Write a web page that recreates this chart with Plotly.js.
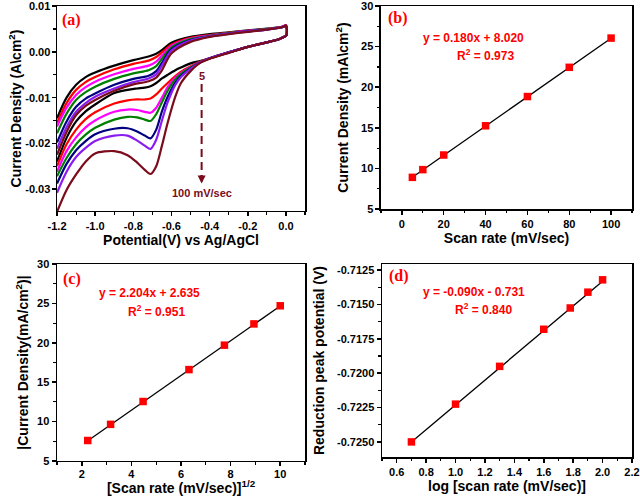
<!DOCTYPE html>
<html>
<head>
<meta charset="utf-8">
<script src="https://cdn.plot.ly/plotly-3.0.1.min.js"></script>
<style>html,body{margin:0;padding:0;background:#fff}#chart{width:640px;height:496px}</style>
</head>
<body>
<div id="chart"></div>
<script>
// ---------- Panel (a): cyclic voltammograms ----------
const scanLabels = ['5', '10', '20', '40', '60', '80', '100'];
const cvColors = ['#000000', '#ff0000', '#ff00ff', '#008000', '#000080', '#8a1cf0', '#7a0c1c'];

// anodic (upper) branch potentials
const upperX = [-1.2, -1.15, -1.1, -1.05, -1.0, -0.9, -0.8, -0.72, -0.68, -0.65, -0.6, -0.5, -0.4, -0.3, -0.2, -0.1, -0.02, 0.0];
// turnaround near 0 V
const turnX = [0.004, 0.005, 0.002];
const turnY = [0.0053, 0.0044, 0.0036];
// cathodic (lower) branch potentials
const lowerX = [-0.03, -0.1, -0.2, -0.3, -0.4, -0.45, -0.5, -0.55, -0.58, -0.62, -0.65, -0.68, -0.71, -0.74, -0.78, -0.83, -0.9, -1.0, -1.05, -1.1, -1.15, -1.2];

const upper5   = [-0.0145, -0.0100, -0.0072, -0.0055, -0.0045, -0.0030, -0.0018, -0.0010, -0.0004, 0.0004, 0.0020, 0.0033, 0.0039, 0.0043, 0.0047, 0.0051, 0.0055, 0.0058];
const upper10  = [-0.0155, -0.0112, -0.0083, -0.0066, -0.0055, -0.0038, -0.0026, -0.0019, -0.0011, -0.0001, 0.0016, 0.0031, 0.0037, 0.0042, 0.0046, 0.0050, 0.0055, 0.0058];
const upper20  = [-0.0163, -0.0122, -0.0094, -0.0077, -0.0065, -0.0049, -0.0037, -0.0030, -0.0021, -0.0008, 0.0013, 0.0029, 0.0036, 0.0041, 0.0046, 0.0050, 0.0055, 0.0058];
const upper40  = [-0.0178, -0.0135, -0.0105, -0.0088, -0.0076, -0.0059, -0.0047, -0.0040, -0.0031, -0.0015, 0.0010, 0.0028, 0.0035, 0.0041, 0.0045, 0.0050, 0.0054, 0.0057];
const upper60  = [-0.0198, -0.0152, -0.0120, -0.0102, -0.0091, -0.0072, -0.0059, -0.0052, -0.0042, -0.0024, 0.0006, 0.0026, 0.0034, 0.0040, 0.0045, 0.0049, 0.0054, 0.0057];
const upper80  = [-0.0212, -0.0165, -0.0131, -0.0112, -0.0098, -0.0080, -0.0066, -0.0058, -0.0049, -0.0030, 0.0003, 0.0025, 0.0034, 0.0040, 0.0045, 0.0049, 0.0054, 0.0057];
const upper100 = [-0.0225, -0.0175, -0.0138, -0.0118, -0.0105, -0.0085, -0.0071, -0.0064, -0.0056, -0.0040, -0.0003, 0.0022, 0.0033, 0.0039, 0.0044, 0.0049, 0.0054, 0.0058];

const lower5   = [0.0029, 0.0021, 0.0011, -0.0001, -0.0014, -0.0020, -0.0025, -0.0034, -0.0040, -0.0050, -0.0058, -0.0068, -0.0075, -0.0078, -0.0080, -0.0083, -0.0090, -0.0115, -0.0130, -0.0152, -0.0188, -0.0240];
const lower10  = [0.0029, 0.0021, 0.0011, -0.0001, -0.0014, -0.0021, -0.0031, -0.0043, -0.0053, -0.0068, -0.0080, -0.0093, -0.0102, -0.0104, -0.0104, -0.0106, -0.0113, -0.0132, -0.0147, -0.0170, -0.0202, -0.0250];
const lower20  = [0.0029, 0.0021, 0.0011, -0.0001, -0.0014, -0.0022, -0.0033, -0.0046, -0.0056, -0.0077, -0.0100, -0.0122, -0.0133, -0.0131, -0.0127, -0.0126, -0.0131, -0.0150, -0.0165, -0.0187, -0.0217, -0.0262];
const lower40  = [0.0029, 0.0021, 0.0011, -0.0001, -0.0014, -0.0022, -0.0034, -0.0048, -0.0060, -0.0085, -0.0110, -0.0136, -0.0151, -0.0148, -0.0143, -0.0142, -0.0148, -0.0166, -0.0181, -0.0202, -0.0232, -0.0272];
const lower60  = [0.0029, 0.0021, 0.0011, -0.0001, -0.0014, -0.0023, -0.0036, -0.0052, -0.0067, -0.0098, -0.0130, -0.0170, -0.0189, -0.0183, -0.0174, -0.0167, -0.0168, -0.0180, -0.0195, -0.0215, -0.0245, -0.0288];
const lower80  = [0.0029, 0.0021, 0.0011, -0.0001, -0.0014, -0.0023, -0.0037, -0.0055, -0.0072, -0.0110, -0.0150, -0.0192, -0.0212, -0.0205, -0.0194, -0.0183, -0.0183, -0.0195, -0.0210, -0.0230, -0.0262, -0.0308];
const lower100 = [0.0029, 0.0021, 0.0011, -0.0002, -0.0015, -0.0024, -0.0042, -0.0068, -0.0098, -0.0155, -0.0205, -0.0250, -0.0267, -0.0258, -0.0242, -0.0226, -0.0217, -0.0222, -0.0240, -0.0268, -0.0302, -0.0350];

const upperSets = [upper5, upper10, upper20, upper40, upper60, upper80, upper100];
const lowerSets = [lower5, lower10, lower20, lower40, lower60, lower80, lower100];

// tick labels (hyphen-minus as in the original figure)
const aXTickVals = [-1.2, -1.0, -0.8, -0.6, -0.4, -0.2, 0.0];
const aXTickText = ['-1.2', '-1.0', '-0.8', '-0.6', '-0.4', '-0.2', '0.0'];
const aYTickVals = [0.01, 0.0, -0.01, -0.02, -0.03];
const aYTickText = ['0.01', '0.00', '-0.01', '-0.02', '-0.03'];
const dYTickVals = [-0.7125, -0.7150, -0.7175, -0.7200, -0.7225, -0.7250];
const dYTickText = ['-0.7125', '-0.7150', '-0.7175', '-0.7200', '-0.7225', '-0.7250'];

// ---------- Panel (b) ----------
const scanRate = [5, 10, 20, 40, 60, 80, 100];
const peakCurrentB = [8.9, 9.85, 11.65, 15.25, 18.85, 22.45, 26.05];
const fitB = [0.180, 8.020];   // slope, intercept

// ---------- Panel (c) ----------
const sqrtScanRate = [2.24, 3.16, 4.47, 6.32, 7.75, 8.94, 10.0];
const peakCurrentC = [7.6, 9.65, 12.55, 16.6, 19.7, 22.4, 24.7];
const fitC = [2.204, 2.635];

// ---------- Panel (d) ----------
const logScanRate = [0.70, 1.00, 1.30, 1.60, 1.78, 1.90, 2.00];
const peakPotential = [-0.7250, -0.72225, -0.7195, -0.7168, -0.71525, -0.7141, -0.7132];
const fitD = [0.0090, -0.7313];

// ---------- build traces ----------
const traces = [];
for (let i = 0; i < upperSets.length; i++) {
  traces.push({
    type: 'scatter', mode: 'lines', xaxis: 'x', yaxis: 'y',
    x: upperX.concat(turnX, lowerX),
    y: upperSets[i].concat(turnY, lowerSets[i]),
    line: {color: cvColors[i], width: 2.2, shape: 'spline', smoothing: 0.8},
    name: scanLabels[i] + ' mV/sec', showlegend: false
  });
}
function fitLine(xs, fit, xa, ya) {
  const x0 = xs[0], x1 = xs[xs.length - 1];
  return {type: 'scatter', mode: 'lines', xaxis: xa, yaxis: ya,
    x: [x0, x1], y: [fit[0] * x0 + fit[1], fit[0] * x1 + fit[1]],
    line: {color: '#000', width: 1.3}, showlegend: false};
}
function pts(xs, ys, xa, ya) {
  return {type: 'scatter', mode: 'markers', xaxis: xa, yaxis: ya, x: xs, y: ys,
    marker: {symbol: 'square', size: 7.5, color: '#ff0000'}, showlegend: false};
}
traces.push(fitLine(scanRate, fitB, 'x2', 'y2'), pts(scanRate, peakCurrentB, 'x2', 'y2'));
traces.push(fitLine(sqrtScanRate, fitC, 'x3', 'y3'), pts(sqrtScanRate, peakCurrentC, 'x3', 'y3'));
traces.push(fitLine(logScanRate, fitD, 'x4', 'y4'), pts(logScanRate, peakPotential, 'x4', 'y4'));

// ---------- layout ----------
const FONT = 'Liberation Sans, Arial, sans-serif';
function minorTicks(tick0, dtick) {
  return {tickmode: 'linear', tick0: tick0, dtick: dtick, ticks: 'outside', ticklen: 2.5, tickwidth: 1.2, tickcolor: '#000', showgrid: false};
}
function ax(extra) {
  return Object.assign({
    showline: true, linecolor: '#000', linewidth: 1.5, mirror: true,
    ticks: 'outside', ticklen: 4, tickwidth: 1.5, tickcolor: '#000',
    showgrid: false, zeroline: false, ticklabeloverflow: 'allow',
    tickfont: {family: FONT, size: 11, weight: 'bold', color: '#000'}
  }, extra);
}
function ttl(text, standoff) {
  return {text: text, standoff: standoff, font: {family: FONT, size: 14, weight: 'bold', color: '#000'}};
}
const redFont = {family: FONT, size: 12, weight: 'bold', color: '#ff0000'};
const lblFont = {family: 'Liberation Serif, Times New Roman, serif', size: 16, weight: 'bold', color: '#ff0000'};
const maroon = '#7a0c1c';

function panelLabel(t, xr, yr, x, y) {
  return {text: t, xref: xr + ' domain', yref: yr + ' domain', x: x, y: y, showarrow: false, font: lblFont, xanchor: 'center', yanchor: 'middle'};
}
function eq(t, xr, yr, x, y) {
  return {text: t, xref: xr + ' domain', yref: yr + ' domain', x: x, y: y, showarrow: false, font: redFont, xanchor: 'center', yanchor: 'middle'};
}

const layout = {
  width: 640, height: 496,
  margin: {l: 0, r: 0, t: 0, b: 0},
  paper_bgcolor: '#fff', plot_bgcolor: '#fff',
  showlegend: false,
  xaxis: ax({domain: [0.0891, 0.4766], anchor: 'y', range: [-1.2, 0.1],
    tickmode: 'array', tickvals: aXTickVals, ticktext: aXTickText,
    minor: minorTicks(-1.2, 0.1),
    title: ttl('Potential(V) vs Ag/AgCl', 4)}),
  yaxis: ax({domain: [0.5746, 0.9879], anchor: 'x', range: [-0.0348, 0.01005],
    tickmode: 'array', tickvals: aYTickVals, ticktext: aYTickText, ticklabelstandoff: -1,
    minor: minorTicks(0, 0.005),
    title: ttl('Current Density (A\\cm<sup>2</sup>)', 0)}),
  xaxis2: ax({domain: [0.5953, 0.9875], anchor: 'y2', range: [-10, 110], tick0: 0, dtick: 20,
    minor: minorTicks(0, 10),
    title: ttl('Scan rate (mV/sec)', 3)}),
  yaxis2: ax({domain: [0.5786, 0.9879], anchor: 'x2', range: [5, 30], tick0: 5, dtick: 5,
    minor: minorTicks(5, 2.5),
    title: ttl('Current Density (mA\\cm<sup>2</sup>)', 9)}),
  xaxis3: ax({domain: [0.0891, 0.4766], anchor: 'y3', range: [1, 11], tick0: 2, dtick: 2,
    ticklabelstandoff: -2,
    minor: minorTicks(1, 1),
    title: ttl('[Scan rate (mV/sec)]<sup>1/2</sup>', 5)}),
  yaxis3: ax({domain: [0.0706, 0.4677], anchor: 'x3', range: [5, 30], tick0: 5, dtick: 5,
    minor: minorTicks(5, 2.5),
    title: ttl('|Current Density(mA/cm<sup>2</sup>)|', 5)}),
  xaxis4: ax({domain: [0.5969, 0.9875], anchor: 'y4', range: [0.5, 2.2], tick0: 0.6, dtick: 0.2, tickformat: '.1f',
    minor: minorTicks(0.5, 0.1),
    title: ttl('log [scan rate (mV/sec)]', 1)}),
  yaxis4: ax({domain: [0.0786, 0.4677], anchor: 'x4', range: [-0.72610, -0.71205],
    tickmode: 'array', tickvals: dYTickVals, ticktext: dYTickText,
    minor: minorTicks(-0.7125, 0.00125),
    title: ttl('Reduction peak potential (V)', 9)}),
  shapes: [
    {type: 'line', xref: 'x', yref: 'y', x0: -0.442, x1: -0.442, y0: -0.0070, y1: -0.0276,
     line: {color: maroon, width: 2, dash: '8px,5px'}}
  ],
  annotations: [
    panelLabel('(a)', 'x', 'y', 0.06, 0.932),
    panelLabel('(b)', 'x2', 'y2', 0.068, 0.941),
    panelLabel('(c)', 'x3', 'y3', 0.06, 0.924),
    panelLabel('(d)', 'x4', 'y4', 0.068, 0.938),
    eq('y = 0.180x + 8.020', 'x2', 'y2', 0.37, 0.842),
    eq('R<sup>2</sup> = 0.973', 'x2', 'y2', 0.418, 0.759),
    eq('y = 2.204x + 2.635', 'x3', 'y3', 0.371, 0.851),
    eq('R<sup>2</sup> = 0.951', 'x3', 'y3', 0.402, 0.761),
    eq('y = -0.090x - 0.731', 'x4', 'y4', 0.369, 0.854),
    eq('R<sup>2</sup> = 0.840', 'x4', 'y4', 0.405, 0.766),
    {text: '5', xref: 'x', yref: 'y', x: -0.442, y: -0.0053, showarrow: false,
     font: {family: FONT, size: 11, weight: 'bold', color: maroon}},
    {text: '', xref: 'x', yref: 'y', x: -0.442, y: -0.0288, showarrow: true, ax: 0, ay: -10,
     arrowhead: 2, arrowsize: 0.8, arrowwidth: 2, arrowcolor: maroon},
    {text: '100 mV/sec', xref: 'x', yref: 'y', x: -0.442, y: -0.0309, showarrow: false,
     font: {family: FONT, size: 11, weight: 'bold', color: maroon}}
  ]
};

Plotly.newPlot('chart', traces, layout, {staticPlot: true, displayModeBar: false});
</script>
</body>
</html>
